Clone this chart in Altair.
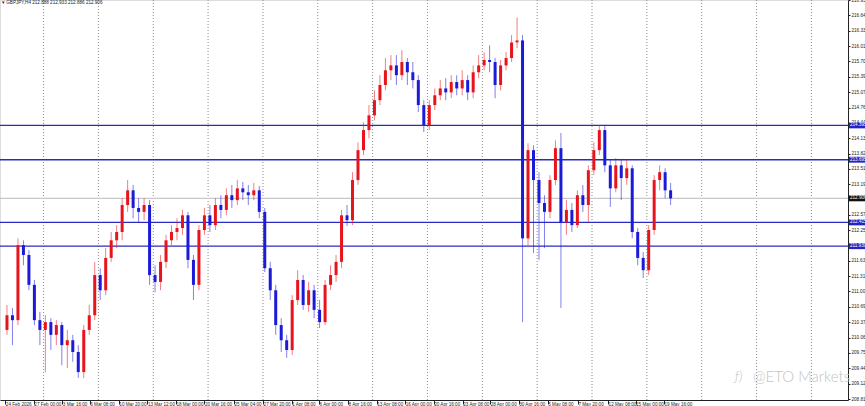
import altair as alt
import pandas as pd

# ---------------- data (prices) ----------------
first_open = 210.22
closes = [210.52, 210.42, 211.95, 211.75, 211.14, 210.42, 210.22, 210.38, 210.12, 210.32,
          209.91, 210.01, 209.77, 209.36, 210.22, 210.52, 211.34, 211.03, 211.69, 212.05,
          212.22, 212.77, 213.07, 212.71, 212.63, 212.77, 211.34, 211.20, 211.61, 212.05,
          212.22, 212.30, 212.56, 211.65, 211.14, 212.26, 212.56, 212.36, 212.77, 212.67,
          212.97, 212.87, 213.11, 213.03, 212.97, 213.07, 212.63, 211.48, 211.03, 210.32,
          210.01, 209.81, 210.83, 211.24, 210.73, 211.03, 210.63, 210.38, 211.14, 211.34,
          211.61, 212.56, 212.46, 213.28, 213.89, 214.30, 214.60, 214.91, 215.22, 215.52,
          215.62, 215.42, 215.69, 215.48, 215.32, 214.81, 214.40, 214.81, 215.01, 215.15,
          215.07, 215.28, 215.15, 215.32, 215.07, 215.48, 215.62, 215.73, 215.69, 215.22,
          215.62, 215.77, 216.09, 216.13, 212.09, 213.89, 213.28, 212.81, 212.63, 213.28,
          213.93, 212.42, 212.67, 212.36, 212.97, 212.77, 213.48, 213.89, 214.30, 213.58,
          213.11, 213.58, 213.32, 213.52, 212.22, 211.69, 211.44, 212.26, 213.28, 213.44,
          213.07, 212.906]
highs = [210.73, 210.67, 212.09, 212.05, 211.85, 211.24, 210.59, 210.52, 210.46, 210.42,
         210.38, 210.22, 210.12, 209.91, 210.32, 210.73, 211.61, 211.48, 211.89, 212.22,
         212.36, 212.91, 213.28, 213.18, 212.91, 212.91, 212.87, 211.54, 211.75, 212.16,
         212.36, 212.50, 212.67, 212.63, 211.75, 212.36, 212.71, 212.77, 212.91, 212.97,
         213.11, 213.18, 213.28, 213.24, 213.18, 213.22, 213.16, 212.71, 211.61, 211.14,
         210.46, 210.12, 210.93, 211.44, 211.34, 211.20, 211.14, 210.83, 211.24, 211.54,
         211.75, 212.67, 212.77, 213.44, 214.05, 214.46, 214.81, 215.11, 215.42, 215.77,
         215.83, 215.83, 215.93, 215.77, 215.69, 215.42, 214.91, 214.91, 215.15, 215.32,
         215.36, 215.42, 215.42, 215.52, 215.42, 215.62, 215.83, 215.89, 216.03, 215.77,
         215.73, 215.89, 216.24, 216.60, 216.24, 214.03, 213.99, 213.44, 212.97, 213.38,
         214.09, 214.24, 212.87, 212.81, 213.07, 213.18, 213.58, 214.05, 214.40, 214.40,
         213.69, 213.73, 213.69, 213.69, 213.58, 212.30, 211.81, 212.36, 213.38, 213.58,
         213.52, 213.22]
lows = [210.12, 209.91, 210.32, 211.54, 211.03, 210.32, 209.91, 209.36, 209.81, 209.91,
        209.50, 209.44, 209.57, 209.24, 209.24, 210.12, 210.42, 210.83, 210.93, 211.61,
        211.89, 212.05, 212.63, 212.50, 212.42, 212.46, 211.14, 210.99, 211.03, 211.48,
        211.95, 212.05, 212.16, 211.48, 210.83, 211.03, 212.16, 212.22, 212.26, 212.50,
        212.56, 212.71, 212.77, 212.87, 212.77, 212.87, 212.50, 211.40, 210.83, 210.12,
        209.77, 209.65, 209.71, 210.73, 210.63, 210.59, 210.46, 210.26, 210.32, 211.03,
        211.20, 211.48, 212.34, 212.36, 213.18, 213.79, 214.13, 214.50, 214.81, 215.11,
        215.32, 215.22, 215.32, 215.22, 215.15, 214.67, 214.26, 214.30, 214.71, 214.91,
        214.91, 214.95, 215.01, 215.01, 214.91, 214.95, 215.36, 215.52, 215.48, 214.95,
        215.11, 215.52, 215.69, 215.97, 210.38, 211.95, 211.79, 211.65, 211.89, 212.50,
        213.18, 210.67, 212.16, 212.22, 212.30, 212.63, 212.42, 213.38, 213.79, 213.44,
        212.73, 213.03, 212.87, 213.18, 212.09, 211.54, 211.28, 211.34, 212.16, 213.07,
        212.91, 212.77]

levels = [214.395, 213.695, 212.415, 211.930]
last_price = 212.906
header = "▾ GBPJPY,H4  212.888 212.933 212.886 212.906"
watermark = "@ETO Markets"
logo = "ƒ)"

y_ticks = [216.955, 216.640, 216.330, 216.015, 215.700, 215.390, 215.075, 214.760,
           214.445, 214.135, 213.820, 213.510, 213.195, 212.880, 212.570, 212.255,
           211.945, 211.630, 211.315, 211.005, 210.690, 210.375, 210.065, 209.750,
           209.440, 209.125, 208.810]
x_tick_pos = [-0.3, 4.9, 10.1, 15.1, 20.4, 25.6, 30.8, 36.0, 41.4, 46.7, 51.9, 56.9,
              62.2, 67.4, 72.6, 77.8, 83.1, 88.1, 93.3, 98.6, 104.1, 109.6, 114.6, 119.8]
x_tick_text = ["24 Feb 2026", "27 Feb 00:00", "3 Mar 16:00", "6 Mar 08:00", "10 Mar 20:00",
               "13 Mar 12:00", "18 Mar 00:00", "20 Mar 16:00", "25 Mar 04:00", "27 Mar 20:00",
               "1 Apr 08:00", "6 Apr 00:00", "8 Apr 16:00", "13 Apr 08:00", "16 Apr 00:00",
               "20 Apr 16:00", "23 Apr 08:00", "28 Apr 00:00", "30 Apr 16:00", "5 May 08:00",
               "7 May 20:00", "12 May 08:00", "15 May 00:00", "19 May 16:00"]
grid_pos = [6.67, 16.67, 26.67, 36.67, 46.67, 56.67, 66.67, 76.67, 86.67, 96.67,
            106.67, 116.67, 126.67, 136.67, 146.67]

# ---------------- tables ----------------
opens = [first_open] + closes[:-1]
candles = pd.DataFrame({
    "i": list(range(len(closes))),
    "open": opens, "close": closes, "high": highs, "low": lows,
})
candles["dir"] = ["up" if c >= o else "down" for o, c in zip(opens, closes)]

FONT = "Liberation Sans"
FS = 4.6
xscale = alt.Scale(domain=[-0.36, 152.43], nice=False, zero=False)
yscale = alt.Scale(domain=[208.79, 216.955], nice=False, zero=False)
cscale = alt.Scale(domain=["up", "down"], range=["#e8141c", "#1a1ad8"])

label_expr = "{}[indexof({}, datum.value)]".format(
    "[" + ",".join("'%s'" % t for t in x_tick_text) + "]",
    "[" + ",".join(repr(p) for p in x_tick_pos) + "]",
)

xaxis = alt.Axis(values=x_tick_pos, labelExpr=label_expr, orient="bottom", title=None,
                 grid=False, tickSize=4, tickColor="#222", domainColor="#222",
                 labelAlign="left", labelBaseline="top", labelPadding=-3,
                 labelFontSize=FS, labelFont=FONT, labelColor="#222",
                 labelOverlap=False, labelFlush=False, labelBound=False, zindex=0)
yaxis = alt.Axis(values=y_ticks, format=".3f", orient="right", title=None, grid=False,
                 tickSize=2, tickColor="#222", domainColor="#222", labelPadding=1,
                 labelFontSize=FS, labelFont=FONT, labelColor="#222",
                 labelOverlap=False, labelFlush=False, labelBound=False, zindex=0)


def X(field):
    return alt.X(field, scale=xscale, axis=xaxis)


def Y(field):
    return alt.Y(field, scale=yscale, axis=yaxis)


grid = alt.Chart(pd.DataFrame({"g": grid_pos})).mark_rule(
    strokeDash=[1, 2], color="#8c8c8c", strokeWidth=1
).encode(x=X("g:Q"))

price_line = alt.Chart(pd.DataFrame({"p": [last_price]})).mark_rule(
    color="#c8c8c8", strokeWidth=1.2
).encode(y=Y("p:Q"))

lvl_df = pd.DataFrame({"p": levels})
level_lines = alt.Chart(lvl_df).mark_rule(color="#2b2bc4", strokeWidth=1.4).encode(
    y=Y("p:Q"))

wicks = alt.Chart(candles).mark_rule(strokeWidth=1, opacity=0.55).encode(
    x=X("i:Q"), y=Y("low:Q"), y2="high:Q",
    color=alt.Color("dir:N", scale=cscale, legend=None))

bodies = alt.Chart(candles).mark_bar(size=3).encode(
    x=X("i:Q"), y=Y("open:Q"), y2="close:Q",
    color=alt.Color("dir:N", scale=cscale, legend=None))

lvl_boxes = alt.Chart(lvl_df).transform_calculate(
    top="datum.p + 0.06", bot="datum.p - 0.06"
).mark_rect(color="#2323c8").encode(
    x=alt.value(849), x2=alt.value(866), y=Y("top:Q"), y2="bot:Q")
lvl_text = alt.Chart(lvl_df).mark_text(
    align="left", baseline="middle", fontSize=FS, font=FONT, color="white"
).encode(x=alt.value(850), y=Y("p:Q"), text=alt.Text("p:Q", format=".3f"))

last_df = pd.DataFrame({"p": [last_price]})
last_box = alt.Chart(last_df).transform_calculate(
    top="datum.p + 0.06", bot="datum.p - 0.06"
).mark_rect(color="#111111").encode(
    x=alt.value(849), x2=alt.value(866), y=Y("top:Q"), y2="bot:Q")
last_text = alt.Chart(last_df).mark_text(
    align="left", baseline="middle", fontSize=FS, font=FONT, color="white"
).encode(x=alt.value(850), y=Y("p:Q"), text=alt.Text("p:Q", format=".3f"))

head = alt.Chart(pd.DataFrame({"t": [header]})).mark_text(
    align="left", baseline="middle", fontSize=FS, font=FONT, color="#222"
).encode(x=alt.value(2), y=alt.value(3), text="t:N")

wm = alt.Chart(pd.DataFrame({"t": [watermark]})).mark_text(
    align="left", baseline="middle", fontSize=15, font="Lato", fontWeight=300, color="#c4c4c4"
).encode(x=alt.value(753), y=alt.value(377), text="t:N")
wm_logo = alt.Chart(pd.DataFrame({"t": [logo]})).mark_text(
    align="left", baseline="middle", fontSize=14, font="Lato", fontStyle="italic",
    fontWeight=300, color="#c4c4c4"
).encode(x=alt.value(735), y=alt.value(377), text="t:N")

chart = alt.layer(
    grid, price_line, level_lines, wicks, bodies,
    lvl_boxes, lvl_text, last_box, last_text, head, wm, wm_logo
).properties(
    width=848, height=400, autosize="none",
    padding={"left": 0, "top": 0, "right": 17, "bottom": 6},
).configure_view(stroke=None).configure(background="white")

chart.save("out.html", embed_options={"renderer": "svg", "actions": False})
